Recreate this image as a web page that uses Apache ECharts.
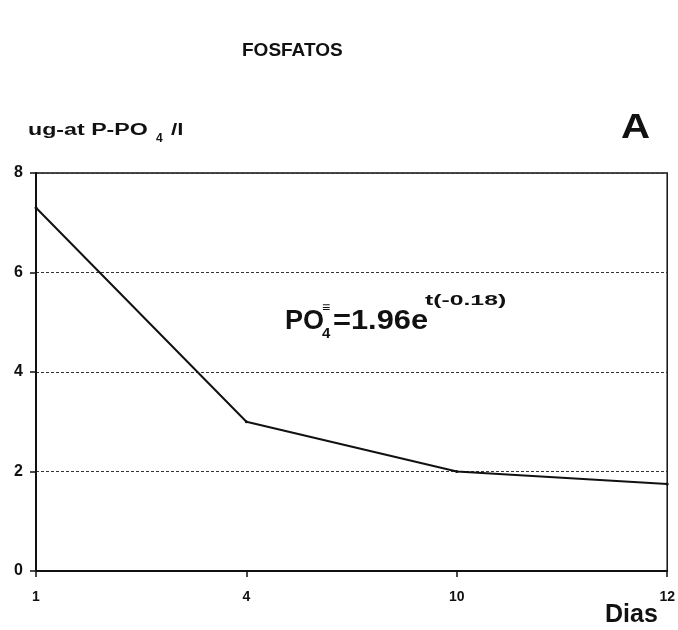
<!DOCTYPE html>
<html><head><meta charset="utf-8">
<script src="https://cdn.jsdelivr.net/npm/echarts@6/dist/echarts.min.js"></script>
<style>html,body{margin:0;padding:0;background:#fff}#c{width:678px;height:630px}</style>
</head><body><div id="c"></div>
<script>
const days = ['1', '4', '10', '12'];
const phosphate = [7.3, 3.0, 2.0, 1.75];
const yTicks = [0, 2, 4, 6, 8];

const F = '"Liberation Sans", Arial, sans-serif';
const chart = echarts.init(document.getElementById('c'));
chart.setOption({
  animation: false,
  backgroundColor: '#fff',
  title: [
    {text: 'FOSFATOS', left: 237, top: 36, textStyle: {fontFamily: F, fontWeight: 'bold', fontSize: 19, color: '#111'}}
  ],
  grid: {left: 36, right: 3, top: 173, bottom: 59, show: true, borderColor: '#111', borderWidth: 1.5, backgroundColor: 'transparent'},
  xAxis: {
    type: 'category', data: days, boundaryGap: false,
    axisLine: {lineStyle: {color: '#111', width: 2}},
    axisTick: {show: true, length: 6, lineStyle: {color: '#111', width: 1.5}},
    axisLabel: {color: '#111', fontFamily: F, fontWeight: 'bold', fontSize: 14, margin: 19},
    splitLine: {show: false}
  },
  yAxis: {
    type: 'value', min: 0, max: 8, interval: 2,
    axisLine: {show: true, lineStyle: {color: '#111', width: 2}},
    axisTick: {show: true, length: 6, lineStyle: {color: '#111', width: 1.5}},
    axisLabel: {color: '#111', fontFamily: F, fontWeight: 'bold', fontSize: 16, margin: 13,
      formatter: v => yTicks.includes(v) ? String(v) : ''},
    splitLine: {show: true, lineStyle: {color: '#333', type: [3, 2], width: 1}}
  },
  series: [{
    type: 'line', data: phosphate, symbol: 'circle', symbolSize: 3,
    lineStyle: {color: '#111', width: 2}, itemStyle: {color: '#111'}
  }],
  graphic: [
    {type: 'text', x: 28, y: 123, scaleX: 1.45, style: {text: 'ug-at P-PO', fontFamily: F, fontWeight: 'bold', fontSize: 16, fill: '#111'}},
    {type: 'text', x: 156, y: 133, style: {text: '4', fontFamily: F, fontWeight: 'bold', fontSize: 12, fill: '#111'}},
    {type: 'text', x: 171, y: 123, scaleX: 1.4, style: {text: '/l', fontFamily: F, fontWeight: 'bold', fontSize: 16, fill: '#111'}},
    {type: 'text', x: 621, y: 111, scaleX: 1.15, style: {text: 'A', fontFamily: F, fontWeight: 'bold', fontSize: 35, fill: '#111'}},
    {type: 'text', x: 285, y: 308, style: {text: 'PO', fontFamily: F, fontWeight: 'bold', fontSize: 27, fill: '#111'}},
    {type: 'text', x: 322, y: 326, style: {text: '4', fontFamily: F, fontWeight: 'bold', fontSize: 15, fill: '#111'}},
    {type: 'text', x: 322, y: 301, style: {text: '≡', fontFamily: F, fontWeight: 'bold', fontSize: 14, fill: '#111'}},
    {type: 'text', x: 333, y: 308, scaleX: 1.14, style: {text: '=1.96e', fontFamily: F, fontWeight: 'bold', fontSize: 27, fill: '#111'}},
    {type: 'text', x: 425, y: 293, scaleX: 1.65, style: {text: 't(-0.18)', fontFamily: F, fontWeight: 'bold', fontSize: 15, fill: '#111'}},
    {type: 'text', x: 605, y: 603, style: {text: 'Dias', fontFamily: F, fontWeight: 'bold', fontSize: 25, fill: '#111'}}
  ]
});
</script></body></html>
